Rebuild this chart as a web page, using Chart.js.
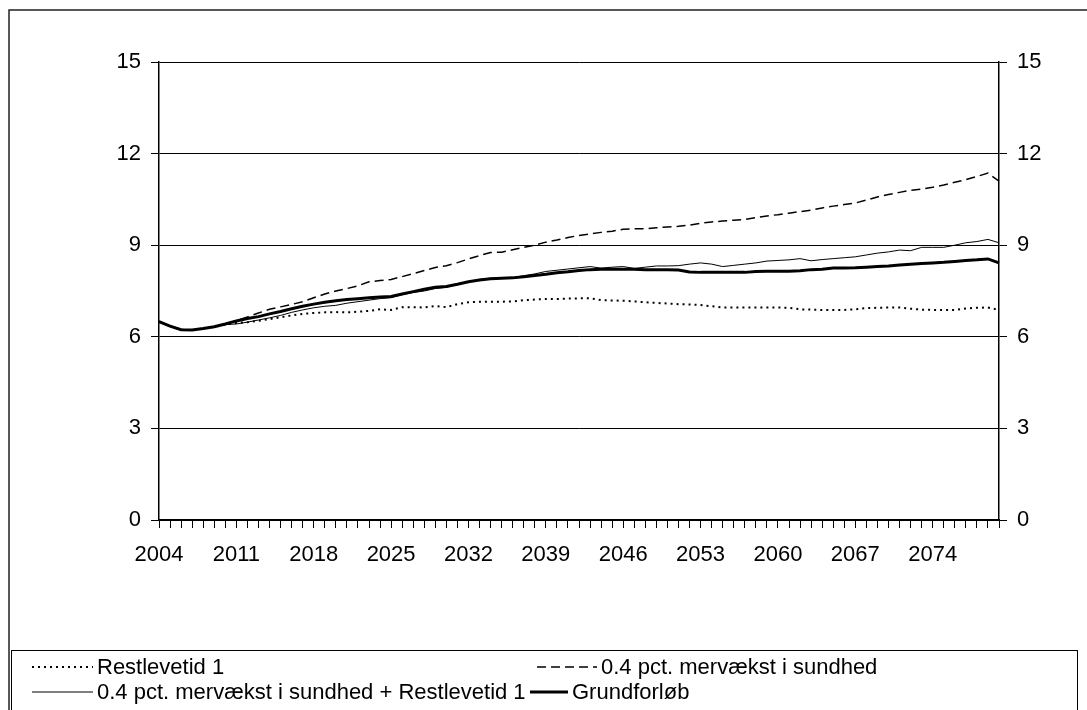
<!DOCTYPE html>
<html lang="da">

<head>
    <title>Restlevetid og sundhed</title>
    <script src="https://cdn.jsdelivr.net/npm/chart.js"></script>
    <style>
        body { margin: 0; background: #fff; }
    </style>
</head>

<body>
    <canvas id="myChart" width="1087" height="710"></canvas>

    <script type="text/javascript">

        const years = [];
        for (let y = 2004; y <= 2080; y++) years.push(String(y));

        const yTicks = [0, 3, 6, 9, 12, 15];

        const restlevetid = [6.5, 6.35, 6.23, 6.22, 6.27, 6.33, 6.4, 6.45, 6.48, 6.52,
            6.58, 6.64, 6.7, 6.75, 6.78, 6.8, 6.81, 6.8, 6.82, 6.85,
            6.9, 6.88, 6.97, 6.97, 6.96, 7.01, 6.97, 7.07, 7.13, 7.15,
            7.15, 7.15, 7.16, 7.2, 7.22, 7.24, 7.24, 7.25, 7.26, 7.26,
            7.2, 7.19, 7.18, 7.16, 7.13, 7.11, 7.09, 7.07, 7.06, 7.04,
            7.0, 6.96, 6.96, 6.96, 6.96, 6.96, 6.96, 6.95, 6.9, 6.89,
            6.88, 6.88, 6.88, 6.9, 6.94, 6.95, 6.96, 6.96, 6.92, 6.89,
            6.88, 6.88, 6.88, 6.93, 6.95, 6.96, 6.88];

        const sundhed = [6.5, 6.35, 6.23, 6.22, 6.27, 6.33, 6.42, 6.53, 6.65, 6.78,
            6.9, 6.98, 7.06, 7.15, 7.28, 7.4, 7.5, 7.58, 7.67, 7.8,
            7.84, 7.88, 7.97, 8.07, 8.17, 8.27, 8.33, 8.43, 8.55, 8.66,
            8.76, 8.77, 8.85, 8.93, 9.0, 9.1, 9.17, 9.25, 9.32, 9.37,
            9.42, 9.46, 9.52, 9.54, 9.54, 9.57, 9.6, 9.62, 9.66, 9.72,
            9.76, 9.79, 9.82, 9.84, 9.9, 9.96, 10.0, 10.05, 10.1, 10.15,
            10.22, 10.28, 10.33, 10.38, 10.48, 10.58, 10.66, 10.73, 10.8, 10.84,
            10.9, 10.97, 11.06, 11.15, 11.25, 11.36, 11.1];

        const sundhedRest = [6.5, 6.35, 6.23, 6.22, 6.27, 6.33, 6.4, 6.42, 6.48, 6.55,
            6.62, 6.7, 6.8, 6.88, 6.95, 7.0, 7.03, 7.1, 7.15, 7.2,
            7.25, 7.28, 7.38, 7.45, 7.5, 7.58, 7.62, 7.72, 7.8, 7.88,
            7.92, 7.92, 7.94, 8.0, 8.06, 8.14, 8.18, 8.22, 8.26, 8.3,
            8.25, 8.28, 8.3, 8.24, 8.28, 8.32, 8.32, 8.33, 8.38, 8.42,
            8.38, 8.3, 8.34, 8.38, 8.42, 8.48, 8.5, 8.52, 8.56, 8.49,
            8.53, 8.56, 8.59, 8.62, 8.68, 8.74, 8.78, 8.84, 8.82, 8.93,
            8.93, 8.93, 9.0, 9.08, 9.12, 9.19, 9.08];

        const grundforloeb = [6.5, 6.35, 6.23, 6.22, 6.27, 6.33, 6.42, 6.52, 6.6, 6.66,
            6.75, 6.83, 6.92, 7.0, 7.07, 7.13, 7.18, 7.22, 7.25, 7.28,
            7.3, 7.32, 7.4, 7.48, 7.56, 7.62, 7.65, 7.72, 7.8, 7.86,
            7.9, 7.92, 7.93, 7.97, 8.01, 8.05, 8.1, 8.13, 8.17, 8.2,
            8.21, 8.21, 8.21, 8.21, 8.2, 8.2, 8.2, 8.19, 8.12, 8.11,
            8.11, 8.11, 8.11, 8.11, 8.14, 8.15, 8.15, 8.15, 8.16, 8.2,
            8.21, 8.25, 8.25, 8.26, 8.28, 8.3, 8.32, 8.35, 8.38, 8.4,
            8.42, 8.44, 8.47, 8.5, 8.52, 8.55, 8.42];

        const FONT = 'Liberation Sans, Arial, sans-serif';
        const FONT_SIZE = 22;

        // white page, outer frame of the figure
        const figureFrame = {
            id: 'figureFrame',
            beforeDraw(chart) {
                const { ctx } = chart;
                ctx.save();
                ctx.fillStyle = '#fff';
                ctx.fillRect(0, 0, chart.width, chart.height);
                ctx.strokeStyle = '#222';
                ctx.lineWidth = 1.5;
                ctx.strokeRect(9, 10, chart.width + 20, chart.height + 20);
                ctx.restore();
            }
        };

        // boxed legend at the bottom, two columns like the original
        const boxLegend = {
            id: 'boxLegend',
            afterDraw(chart, args, options) {
                const { ctx } = chart;
                ctx.save();
                ctx.strokeStyle = '#000';
                ctx.lineWidth = 1;
                ctx.strokeRect(11.5, 650.5, 1066, 80);
                ctx.font = FONT_SIZE + 'px ' + FONT;
                ctx.fillStyle = '#000';
                ctx.textBaseline = 'middle';
                chart.data.datasets.forEach((ds, i) => {
                    const p = options.items[i];
                    ctx.beginPath();
                    ctx.setLineDash(ds.borderDash || []);
                    ctx.lineWidth = ds.borderWidth;
                    ctx.moveTo(p.x0, p.y);
                    ctx.lineTo(p.x1, p.y);
                    ctx.stroke();
                    ctx.setLineDash([]);
                    ctx.fillText(ds.label, p.x1 + 4, p.y + 1);
                });
                ctx.restore();
            }
        };

        const ctx = document.getElementById('myChart');
        new Chart(ctx, {
            type: 'line',
            data: {
                labels: years,
                datasets: [{
                    label: 'Restlevetid 1',
                    data: restlevetid,
                    borderColor: '#000',
                    borderWidth: 2,
                    borderDash: [2, 4]
                }, {
                    label: '0.4 pct. mervækst i sundhed',
                    data: sundhed,
                    borderColor: '#000',
                    borderWidth: 1.5,
                    borderDash: [9, 5]
                }, {
                    label: '0.4 pct. mervækst i sundhed + Restlevetid 1',
                    data: sundhedRest,
                    borderColor: '#000',
                    borderWidth: 1
                }, {
                    label: 'Grundforløb',
                    data: grundforloeb,
                    borderColor: '#000',
                    borderWidth: 3
                }]
            },
            options: {
                responsive: false,
                animation: false,
                elements: { point: { radius: 0 }, line: { tension: 0 } },
                layout: { padding: { top: 62, left: 0, right: 0, bottom: 0 } },
                scales: {
                    x: {
                        offset: false,
                        grid: { drawOnChartArea: false, drawTicks: true, tickLength: 8, color: '#000' },
                        border: { color: '#000', width: 1.5 },
                        ticks: {
                            autoSkip: false,
                            maxRotation: 0,
                            padding: 14,
                            color: '#000',
                            font: { family: FONT, size: FONT_SIZE },
                            callback: (v, i) => (i % 7 === 0 ? years[i] : '')
                        },
                        afterFit(scale) { scale.height = 190; }
                    },
                    y: {
                        position: 'left',
                        min: 0,
                        max: 15,
                        afterBuildTicks(scale) { scale.ticks = yTicks.map(v => ({ value: v })); },
                        grid: { color: '#000', lineWidth: 1, tickLength: 8 },
                        border: { color: '#000', width: 1.5 },
                        ticks: { padding: 10, color: '#000', font: { family: FONT, size: FONT_SIZE } },
                        afterFit(scale) { scale.width = 159; }
                    },
                    y2: {
                        position: 'right',
                        min: 0,
                        max: 15,
                        afterBuildTicks(scale) { scale.ticks = yTicks.map(v => ({ value: v })); },
                        grid: { drawOnChartArea: false, color: '#000', tickLength: 8 },
                        border: { color: '#000', width: 1.5 },
                        ticks: { padding: 10, color: '#000', font: { family: FONT, size: FONT_SIZE } },
                        afterFit(scale) { scale.width = 88; }
                    }
                },
                plugins: {
                    legend: { display: false },
                    tooltip: { enabled: false },
                    boxLegend: {
                        items: [
                            { x0: 32, x1: 93, y: 667 },
                            { x0: 537, x1: 597, y: 667 },
                            { x0: 32, x1: 93, y: 692 },
                            { x0: 530, x1: 568, y: 692 }
                        ]
                    }
                }
            },
            plugins: [figureFrame, boxLegend]
        });
    </script>
</body>

</html>
